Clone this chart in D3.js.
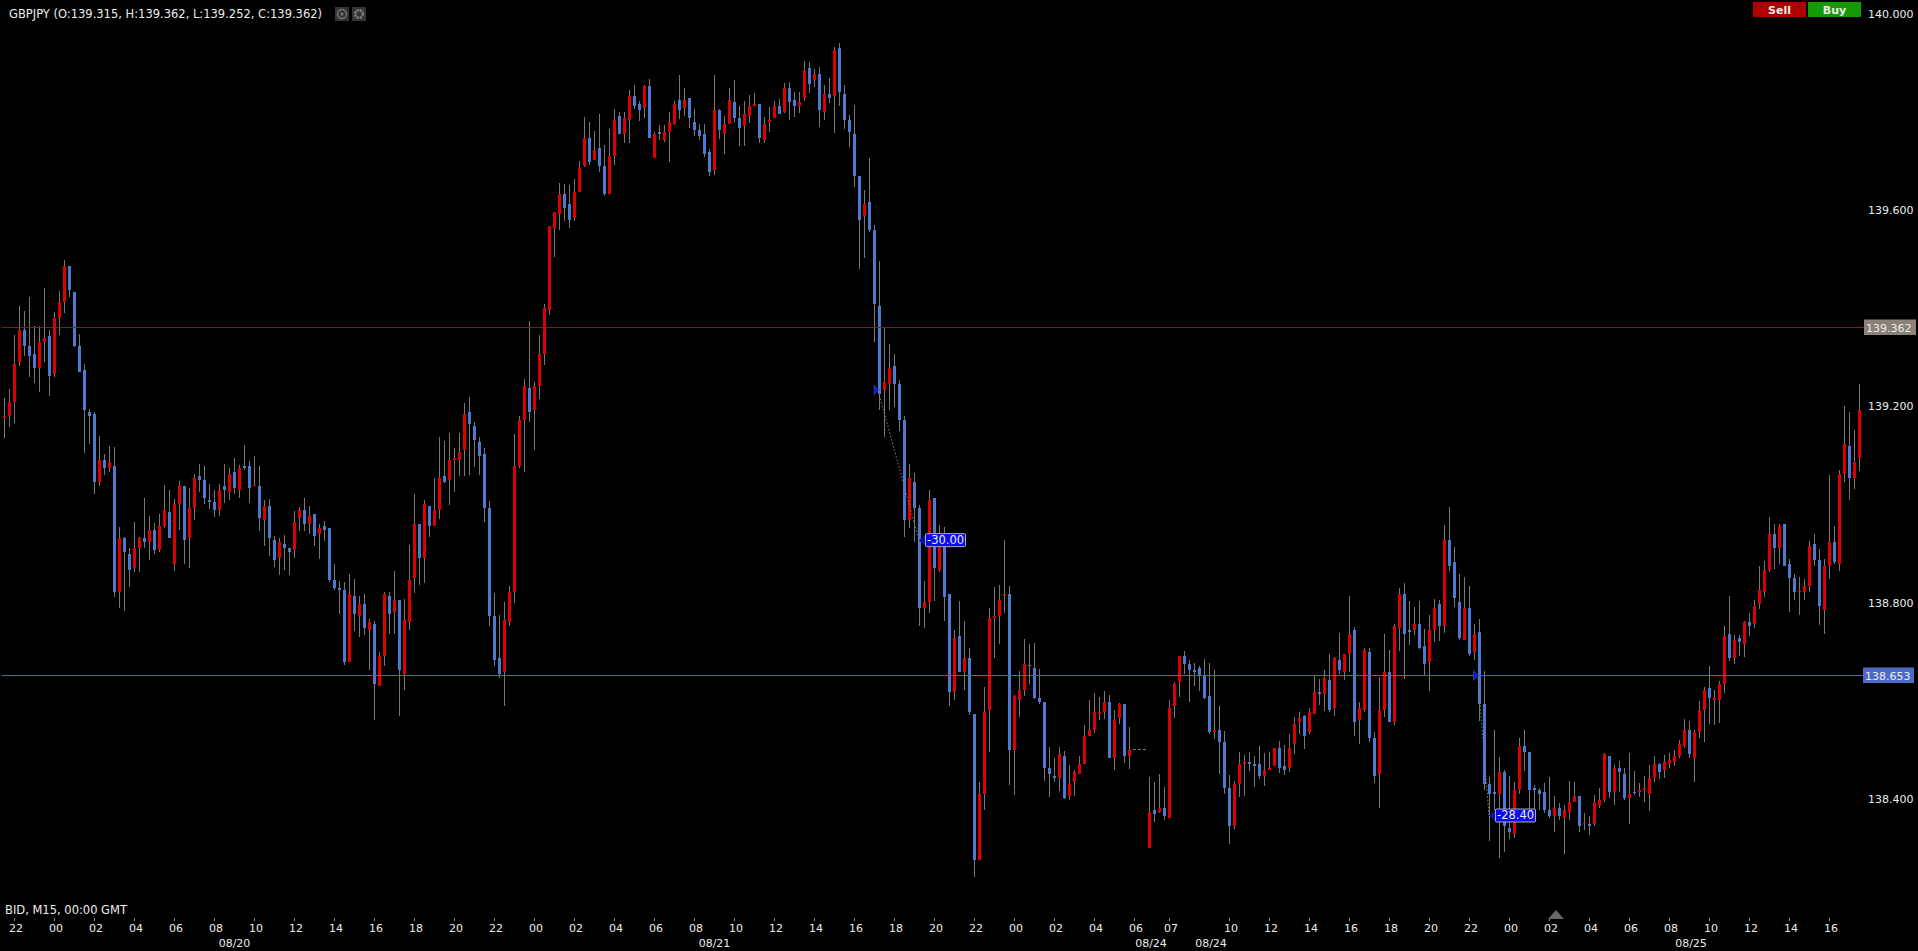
<!DOCTYPE html>
<html>
<head>
<meta charset="utf-8">
<script src="https://cdn.jsdelivr.net/npm/d3@7/dist/d3.min.js"></script>
<style>
html,body{margin:0;padding:0;background:#000;overflow:hidden}
svg{display:block}
text{font-family:"DejaVu Sans",sans-serif;font-size:11px;fill:#ececec}
text.big{font-size:11.5px}
</style>
</head>
<body>
<svg id="chart" width="1918" height="951"></svg>
<script>
const symbolTitle = "GBPJPY (O:139.315, H:139.362, L:139.252, C:139.362)";
const feedInfo = "BID, M15, 00:00 GMT";

const highs = [
139.217,139.235,139.345,139.406,139.394,139.423,139.364,139.364,139.441,139.356,
139.392,139.435,139.499,139.487,139.434,139.349,139.286,139.195,139.189,139.140,
139.104,139.120,139.117,138.954,138.934,138.913,138.964,138.934,139.014,138.977,
138.962,138.981,139.040,139.030,139.011,139.048,139.038,139.034,139.063,139.083,
139.079,139.042,139.030,139.042,139.083,139.075,139.095,139.081,139.122,139.089,
139.100,139.079,139.010,139.012,138.937,138.932,138.939,138.912,138.988,138.996,
139.014,138.998,138.981,138.961,138.967,138.953,138.880,138.845,138.843,138.859,
138.849,138.814,138.818,138.767,138.763,138.700,138.822,138.822,138.865,138.806,
138.808,138.918,139.022,138.961,139.010,138.998,139.055,139.138,139.130,139.146,
139.116,139.146,139.207,139.220,139.169,139.138,139.115,139.008,138.820,138.775,
138.803,138.835,139.144,139.180,139.256,139.375,139.250,139.346,139.409,139.568,
139.597,139.656,139.654,139.652,139.664,139.701,139.790,139.780,139.761,139.796,
139.733,139.766,139.807,139.800,139.800,139.845,139.855,139.823,139.855,139.868,
139.760,139.774,139.774,139.800,139.823,139.876,139.849,139.829,139.807,139.776,
139.776,139.725,139.876,139.807,139.792,139.849,139.866,139.813,139.823,139.835,
139.839,139.817,139.790,139.811,139.823,139.827,139.859,139.861,139.841,139.841,
139.904,139.902,139.888,139.892,139.855,139.870,139.933,139.941,139.855,139.794,
139.815,139.670,139.641,139.707,139.570,139.497,139.362,139.328,139.307,139.254,
139.181,139.083,139.065,139.000,138.845,139.030,139.014,138.959,138.954,138.818,
138.745,138.804,138.763,138.708,138.574,138.435,138.629,138.790,138.833,138.837,
138.928,138.835,138.613,138.661,138.727,138.717,138.719,138.666,138.598,138.507,
138.484,138.506,138.498,138.470,138.460,138.488,138.552,138.602,138.617,138.609,
138.620,138.613,138.582,138.596,138.594,138.547,138.502,138.502,138.502,138.446,
138.435,138.452,138.425,138.602,138.639,138.692,138.702,138.684,138.678,138.672,
138.686,138.678,138.664,138.590,138.539,138.450,138.437,138.497,138.490,138.497,
138.488,138.509,138.494,138.497,138.505,138.519,138.511,138.533,138.568,138.578,
138.572,138.587,138.651,138.645,138.664,138.696,138.690,138.739,138.696,138.814,
138.751,138.598,138.708,138.708,138.537,138.649,138.737,138.704,138.757,138.831,
138.841,138.804,138.792,138.804,138.747,138.776,138.808,138.806,138.959,138.996,
138.914,138.859,138.853,138.835,138.757,138.767,138.661,138.446,138.541,138.486,
138.460,138.448,138.435,138.525,138.541,138.496,138.429,138.423,138.433,138.446,
138.407,138.393,138.389,138.437,138.435,138.407,138.372,138.366,138.409,138.423,
138.494,138.488,138.470,138.478,138.464,138.494,138.458,138.433,138.448,138.470,
138.488,138.474,138.490,138.494,138.501,138.521,138.564,138.560,138.541,138.600,
138.629,138.672,138.623,138.641,138.753,138.814,138.735,138.735,138.763,138.779,
138.806,138.875,138.886,138.975,138.961,138.961,138.961,138.890,138.859,138.853,
138.849,138.926,138.941,138.910,138.890,139.061,138.957,139.071,139.201,139.189,
139.152,139.246];

const lows = [
139.136,139.159,139.167,139.283,139.303,139.261,139.249,139.229,139.291,139.222,
139.261,139.346,139.391,139.424,139.322,139.271,139.106,139.123,139.022,139.038,
139.061,139.067,138.813,138.790,138.784,138.833,138.863,138.863,138.912,138.888,
138.900,138.904,138.952,138.932,138.865,138.949,138.880,138.871,138.969,139.026,
139.002,138.992,138.976,138.977,139.004,139.010,139.022,139.014,139.071,139.004,
139.038,138.947,138.916,138.896,138.873,138.857,138.867,138.857,138.892,138.947,
138.947,138.941,138.916,138.890,138.926,138.843,138.827,138.778,138.674,138.680,
138.743,138.731,138.735,138.664,138.561,138.631,138.672,138.737,138.737,138.569,
138.623,138.745,138.820,138.837,138.841,138.935,138.957,138.971,139.045,139.000,
139.026,139.059,139.059,139.061,139.077,139.061,138.965,138.753,138.672,138.647,
138.590,138.753,138.800,139.074,139.066,139.168,139.112,139.216,139.285,139.387,
139.505,139.560,139.578,139.564,139.578,139.637,139.689,139.692,139.703,139.678,
139.629,139.633,139.692,139.756,139.737,139.737,139.807,139.782,139.788,139.747,
139.707,139.743,139.739,139.699,139.774,139.786,139.792,139.768,139.751,139.743,
139.709,139.670,139.672,139.745,139.715,139.776,139.780,139.731,139.731,139.778,
139.813,139.737,139.737,139.760,139.788,139.796,139.798,139.784,139.790,139.798,
139.823,139.839,139.851,139.770,139.784,139.819,139.758,139.813,139.766,139.729,
139.648,139.481,139.503,139.556,139.332,139.193,139.138,139.193,139.200,139.151,
138.935,138.953,138.924,138.753,138.749,138.780,138.804,138.863,138.763,138.590,
138.602,138.659,138.623,138.572,138.242,138.277,138.378,138.497,138.688,138.717,
138.780,138.429,138.409,138.568,138.611,138.635,138.604,138.594,138.437,138.405,
138.435,138.417,138.401,138.399,138.407,138.452,138.472,138.529,138.535,138.562,
138.564,138.484,138.460,138.554,138.474,138.462,138.502,138.502,138.502,138.301,
138.354,138.372,138.358,138.362,138.566,138.609,138.655,138.598,138.631,138.621,
138.604,138.533,138.523,138.452,138.411,138.309,138.340,138.405,138.407,138.458,
138.425,138.441,138.427,138.460,138.468,138.454,138.450,138.456,138.492,138.533,
138.503,138.533,138.574,138.592,138.580,138.578,138.570,138.655,138.643,138.659,
138.529,138.513,138.578,138.517,138.433,138.382,138.568,138.558,138.551,138.702,
138.645,138.714,138.735,138.706,138.653,138.621,138.721,138.723,138.739,138.865,
138.792,138.725,138.725,138.692,138.684,138.560,138.419,138.315,138.372,138.281,
138.293,138.319,138.321,138.411,138.458,138.378,138.372,138.378,138.372,138.362,
138.334,138.358,138.289,138.358,138.395,138.334,138.338,138.327,138.346,138.382,
138.395,138.403,138.389,138.415,138.399,138.350,138.409,138.405,138.395,138.376,
138.435,138.441,138.444,138.464,138.468,138.484,138.505,138.484,138.435,138.525,
138.517,138.553,138.551,138.555,138.617,138.682,138.676,138.692,138.690,138.733,
138.749,138.788,138.812,138.863,138.869,138.880,138.875,138.782,138.806,138.776,
138.806,138.822,138.875,138.755,138.737,138.849,138.880,138.865,139.047,139.010,
139.032,139.069];

const opens = [
139.177,139.181,139.210,139.291,139.356,139.324,139.307,139.279,139.332,139.344,
139.267,139.381,139.413,139.487,139.434,139.324,139.275,139.189,139.185,139.047,
139.091,139.075,139.079,138.822,138.932,138.900,138.871,138.912,138.932,138.924,
138.949,138.908,138.957,138.985,138.880,139.002,139.038,138.932,138.994,139.059,
139.051,139.010,139.006,138.990,139.038,139.026,139.067,139.030,139.079,139.079,
139.038,139.038,138.969,138.998,138.928,138.892,138.920,138.912,138.908,138.973,
138.990,138.961,138.981,138.941,138.957,138.953,138.847,138.831,138.827,138.680,
138.814,138.774,138.798,138.745,138.757,138.631,138.692,138.814,138.782,138.806,
138.655,138.761,138.851,138.961,138.892,138.998,138.957,138.990,139.059,139.051,
139.091,139.091,139.112,139.189,139.161,139.128,139.104,138.994,138.774,138.688,
138.659,138.761,138.822,139.079,139.173,139.238,139.193,139.242,139.307,139.397,
139.564,139.593,139.633,139.613,139.584,139.637,139.690,139.747,139.703,139.727,
139.690,139.633,139.711,139.792,139.756,139.784,139.833,139.817,139.808,139.853,
139.707,139.760,139.743,139.760,139.776,139.825,139.808,139.829,139.780,139.764,
139.756,139.719,139.682,139.804,139.756,139.776,139.821,139.788,139.772,139.792,
139.813,139.817,139.743,139.780,139.788,139.813,139.800,139.849,139.825,139.813,
139.829,139.890,139.866,139.878,139.800,139.837,139.833,139.931,139.837,139.784,
139.756,139.670,139.588,139.617,139.560,139.405,139.234,139.246,139.283,139.246,
139.173,138.969,139.046,138.993,138.790,138.802,139.014,138.867,138.915,138.818,
138.619,138.733,138.659,138.688,138.574,138.277,138.411,138.582,138.769,138.774,
138.814,138.818,138.501,138.602,138.623,138.673,138.668,138.607,138.598,138.464,
138.448,138.444,138.488,138.407,138.435,138.452,138.472,138.529,138.541,138.574,
138.578,138.598,138.484,138.566,138.594,138.488,138.502,138.502,138.502,138.301,
138.378,138.374,138.382,138.362,138.590,138.639,138.692,138.676,138.664,138.668,
138.651,138.611,138.537,138.541,138.517,138.423,138.346,138.431,138.472,138.476,
138.472,138.472,138.448,138.460,138.468,138.505,138.468,138.464,138.513,138.558,
138.570,138.537,138.574,138.619,138.615,138.643,138.586,138.684,138.659,138.696,
138.745,138.562,138.582,138.700,138.525,138.452,138.582,138.659,138.558,138.749,
138.818,138.745,138.745,138.757,138.712,138.680,138.745,138.798,138.753,138.928,
138.884,138.802,138.725,138.790,138.700,138.741,138.594,138.431,138.415,138.411,
138.456,138.342,138.329,138.419,138.509,138.496,138.423,138.419,138.415,138.378,
138.366,138.382,138.362,138.374,138.395,138.407,138.350,138.350,138.350,138.386,
138.399,138.488,138.415,138.464,138.452,138.403,138.415,138.415,138.419,138.411,
138.444,138.472,138.460,138.472,138.476,138.488,138.509,138.541,138.484,138.537,
138.582,138.627,138.602,138.602,138.635,138.737,138.688,138.729,138.716,138.761,
138.757,138.798,138.822,138.867,138.941,138.912,138.961,138.880,138.851,138.822,
138.822,138.835,138.920,138.888,138.786,138.875,138.924,138.880,139.063,139.120,
139.055,139.095];

const closes = [
139.181,139.210,139.287,139.356,139.324,139.303,139.279,139.332,139.340,139.262,
139.381,139.413,139.487,139.438,139.324,139.271,139.193,139.181,139.047,139.091,
139.075,139.087,138.822,138.932,138.904,138.867,138.912,138.932,138.924,138.949,
138.908,138.957,138.990,138.932,139.002,139.038,138.928,138.994,139.055,139.051,
139.014,139.006,138.990,139.030,139.030,139.063,139.034,139.075,139.075,139.034,
139.040,138.973,138.998,138.932,138.888,138.924,138.912,138.904,138.965,138.990,
138.961,138.977,138.937,138.953,138.949,138.847,138.831,138.827,138.680,138.818,
138.778,138.798,138.749,138.761,138.635,138.692,138.818,138.778,138.806,138.664,
138.765,138.847,138.961,138.892,139.002,138.957,138.990,139.055,139.047,139.091,
139.095,139.108,139.185,139.165,139.132,139.100,138.994,138.774,138.684,138.655,
138.765,138.822,139.079,139.173,139.242,139.189,139.242,139.307,139.401,139.568,
139.597,139.633,139.605,139.580,139.637,139.686,139.747,139.699,139.723,139.690,
139.633,139.711,139.784,139.756,139.788,139.833,139.813,139.804,139.853,139.747,
139.756,139.756,139.760,139.780,139.817,139.804,139.825,139.788,139.764,139.751,
139.715,139.678,139.804,139.764,139.776,139.825,139.788,139.768,139.796,139.813,
139.817,139.747,139.776,139.784,139.813,139.796,139.849,139.821,139.813,139.821,
139.886,139.857,139.878,139.804,139.837,139.829,139.927,139.841,139.784,139.760,
139.670,139.580,139.613,139.560,139.409,139.226,139.250,139.279,139.246,139.173,
138.969,139.055,138.993,138.790,138.802,139.010,138.871,138.918,138.814,138.619,
138.729,138.659,138.688,138.578,138.277,138.411,138.578,138.769,138.774,138.806,
138.818,138.501,138.611,138.623,138.676,138.673,138.607,138.598,138.464,138.452,
138.444,138.492,138.403,138.431,138.456,138.472,138.529,138.541,138.578,138.578,
138.598,138.484,138.562,138.594,138.488,138.501,138.502,138.502,138.502,138.374,
138.370,138.382,138.366,138.586,138.635,138.692,138.676,138.664,138.659,138.651,
138.607,138.537,138.541,138.517,138.423,138.346,138.431,138.472,138.476,138.472,
138.468,138.448,138.460,138.464,138.505,138.464,138.460,138.505,138.554,138.566,
138.529,138.578,138.619,138.615,138.647,138.582,138.688,138.664,138.696,138.737,
138.558,138.586,138.704,138.525,138.448,138.582,138.659,138.558,138.753,138.818,
138.737,138.741,138.757,138.708,138.676,138.745,138.790,138.753,138.928,138.875,
138.810,138.729,138.790,138.696,138.737,138.594,138.431,138.411,138.411,138.456,
138.346,138.334,138.419,138.509,138.496,138.419,138.419,138.411,138.378,138.366,
138.382,138.366,138.378,138.395,138.407,138.346,138.352,138.346,138.395,138.399,
138.492,138.415,138.464,138.456,138.403,138.411,138.413,138.419,138.423,138.444,
138.472,138.456,138.476,138.480,138.488,138.513,138.541,138.492,138.537,138.582,
138.623,138.606,138.606,138.635,138.733,138.688,138.725,138.721,138.761,138.753,
138.794,138.826,138.867,138.941,138.912,138.957,138.875,138.851,138.822,138.825,
138.835,138.916,138.888,138.794,138.875,138.924,138.884,139.063,139.124,139.055,
139.087,139.193];

const priceTicks = [140, 139.6, 139.2, 138.8, 138.4];
const timeTickIndex = [2,10,18,26,34,42,50,58,66,74,82,90,98,106,114,122,130,138,146,154,162,170,178,186,194,202,210,218,226,233,245,253,261,269,277,285,293,301,309,317,325,333,341,349,357,365];
const timeTickLabels = ["22","00","02","04","06","08","10","12","14","16","18","20","22","00","02","04","06","08","10","12","14","16","18","20","22","00","02","04","06","07","10","12","14","16","18","20","22","00","02","04","06","08","10","12","14","16"];
const dateIndex = [46,142,229.3,241.3,337.3];
const dateLabels = ["08/20","08/21","08/24","08/24","08/25"];
const levelPrices = [139.362, 138.653];
const levelColors = ["#b80000", "#4565c4"];
const levelBoxes = ["#8a8277", "#4a6cc8"];
const tradeStart = [174.4, 294.3];
const tradeStartPrice = [139.234, 138.652];
const tradeEnd = [182.9, 296.9];
const tradeEndPrice = [138.928, 138.367];
const tradeLabels = ["-30.00", "-28.40"];

const svg = d3.select("#chart");
svg.append("rect").attr("width",1918).attr("height",951).attr("fill","#000");

const x = d3.scaleLinear().domain([0,371]).range([4.5,1859.5]);
const y = d3.scaleLinear().domain([138.4,140]).range([799.3,14]);
const idx = d3.range(highs.length);

const UP="#dc0000", DOWN="#4c79d2", WICK="#777777";
const colorOf = i => opens[i]===closes[i] ? WICK : (closes[i]>opens[i] ? UP : DOWN);

svg.append("g").selectAll("line").data(idx).join("line")
  .attr("x1",x).attr("x2",x)
  .attr("y1",i=>Math.round(y(highs[i])))
  .attr("y2",i=>Math.round(y(lows[i])))
  .attr("stroke",WICK).attr("stroke-width",1).attr("shape-rendering","crispEdges");

svg.append("g").selectAll("rect").data(idx).join("rect")
  .attr("x",i=>x(i)-1.5).attr("width",3)
  .attr("y",i=>Math.round(y(Math.max(opens[i],closes[i]))))
  .attr("height",i=>Math.max(1,Math.round(Math.abs(y(opens[i])-y(closes[i])))))
  .attr("fill",colorOf).attr("shape-rendering","crispEdges");

// price levels
levelPrices.forEach((p,k)=>{
  const py=Math.round(y(p))+0.5;
  const bx=k?1863:1864;
  svg.append("line").attr("x1",2).attr("x2",bx).attr("y1",py).attr("y2",py)
    .attr("stroke",levelColors[k]).attr("stroke-width",1);
  svg.append("rect").attr("x",bx).attr("y",py-8).attr("width",k?51:52).attr("height",15.5)
    .attr("fill",levelBoxes[k]);
  svg.append("text").attr("x",bx+2).attr("y",py+4).attr("fill","#f4f4f4").text(d3.format(".3f")(p));
});

// trade markers
tradeStart.forEach((s,k)=>{
  const x1=x(s), y1=y(tradeStartPrice[k]), x2=x(tradeEnd[k]), y2=y(tradeEndPrice[k]);
  svg.append("line").attr("x1",x1+2).attr("y1",y1+2).attr("x2",x2).attr("y2",y2)
    .attr("stroke","#808080").attr("stroke-width",1).attr("stroke-dasharray","1.5,2");
  svg.append("path").attr("d",`M${x1-2.5},${y1-5}L${x1+2.5},${y1}L${x1-2.5},${y1+5}Z`)
    .attr("fill","#1414e0").attr("stroke","#555").attr("stroke-width",0.5);
  svg.append("path").attr("d",`M${x2+6},${y2-6}L${x2},${y2}L${x2+6},${y2+6}Z`)
    .attr("fill","#101090");
  svg.append("rect").attr("x",x2+6.5).attr("y",y2-6.5).attr("width",40).attr("height",13)
    .attr("rx",1).attr("fill","#0a0aee").attr("stroke","#a8a8b8");
  svg.append("text").attr("class","big").attr("x",x2+8).attr("y",y2+4).attr("fill","#fff").text(tradeLabels[k]);
});

// price axis
const yAxis = d3.axisRight(y).tickValues(priceTicks).tickFormat(d3.format(".3f")).tickSize(0).tickPadding(6).offset(0);
svg.append("g").attr("transform","translate(1862,0)").call(yAxis)
  .attr("font-family",null).attr("font-size",null)
  .call(g=>g.select(".domain").remove());

// time axis
const xAxis = d3.axisBottom(x).tickValues(timeTickIndex).tickFormat((d,k)=>timeTickLabels[k]).tickSize(3).tickPadding(3).offset(0);
svg.append("g").attr("transform","translate(0,918)").call(xAxis)
  .attr("font-family",null).attr("font-size",null)
  .call(g=>g.select(".domain").remove())
  .call(g=>g.selectAll("line").attr("stroke","#888"))
  .call(g=>g.selectAll("text").attr("dx",1.5));

svg.append("g").selectAll("text").data(dateLabels).join("text")
  .attr("x",(d,k)=>x(dateIndex[k])).attr("y",947).attr("text-anchor","middle").text(d=>d);

svg.append("text").attr("class","big").attr("x",5).attr("y",914).text(feedInfo);
svg.append("text").attr("class","big").attr("x",9).attr("y",18).text(symbolTitle);

// chart toolbar glyphs
svg.append("rect").attr("x",335).attr("y",7).attr("width",14).attr("height",14).attr("fill","#333");
svg.append("rect").attr("x",352).attr("y",7).attr("width",14).attr("height",14).attr("fill","#333");
svg.append("circle").attr("cx",342).attr("cy",14).attr("r",4.5).attr("fill","none").attr("stroke","#777").attr("stroke-width",1.5);
svg.append("circle").attr("cx",342).attr("cy",14).attr("r",1.5).attr("fill","#777");
svg.append("circle").attr("cx",359).attr("cy",14).attr("r",4).attr("fill","none").attr("stroke","#777").attr("stroke-width",2.5).attr("stroke-dasharray","2,1.2");
svg.append("circle").attr("cx",359).attr("cy",14).attr("r",3.5).attr("fill","none").attr("stroke","#777").attr("stroke-width",1);

// buttons
const buttonLabels=["Sell","Buy"], buttonFills=["#b00000","#149a05"];
buttonLabels.forEach((b,k)=>{
  svg.append("rect").attr("x",1753+55*k).attr("y",2).attr("width",53).attr("height",15).attr("fill",buttonFills[k]);
  svg.append("text").attr("x",1779.5+55*k).attr("y",13.5).attr("text-anchor","middle")
    .attr("fill","#f4f4f4").style("font-weight","bold").text(b);
});

// window marker
svg.append("path").attr("d","M1548,919L1556,910L1564,919Z").attr("fill","#666");
</script>
</body>
</html>
